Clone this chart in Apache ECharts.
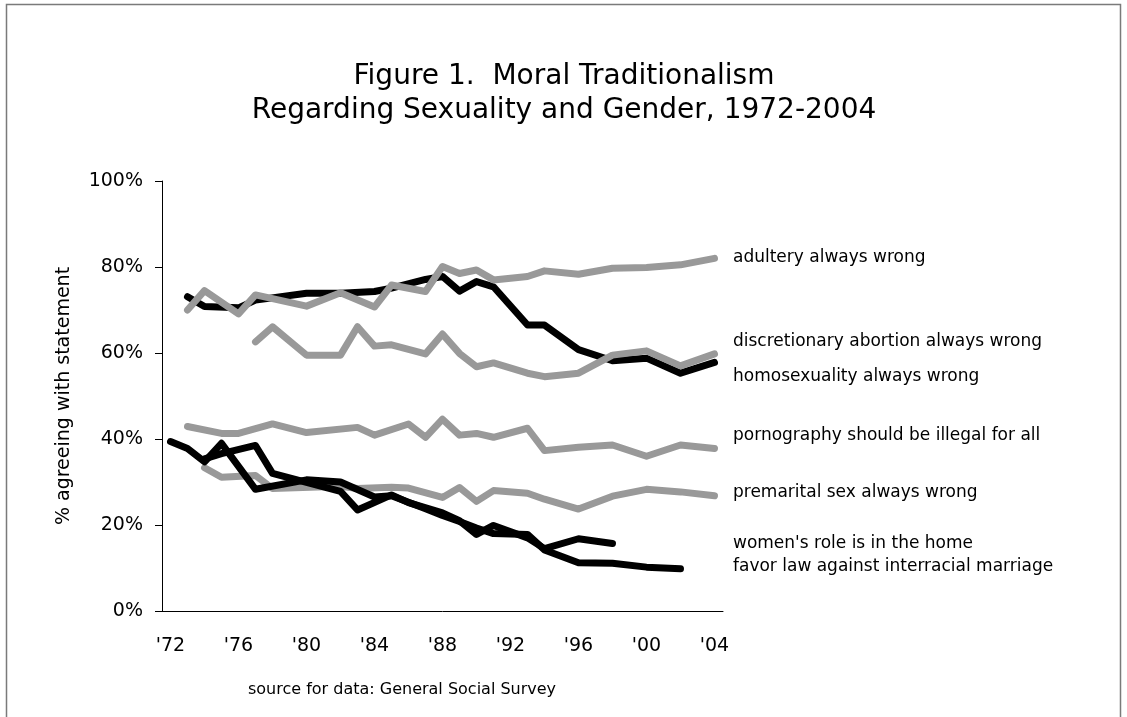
<!DOCTYPE html>
<html>
<head>
<meta charset="utf-8">
<script src="https://cdn.jsdelivr.net/npm/echarts@6/dist/echarts.min.js"></script>
<style>
html,body{margin:0;padding:0;background:#fff;}
#chart{width:1127px;height:717px;}
</style>
</head>
<body>
<div id="chart"></div>
<script>
// Survey years 1972..2004 (category axis); null = not asked that year
const years = [];
for (let y = 1972; y <= 2004; y++) years.push(String(y));

const titleLines = ['Figure 1.  Moral Traditionalism', 'Regarding Sexuality and Gender, 1972-2004'];
const yAxisTitle = '% agreeing with statement';
const sourceText = 'source for data: General Social Survey';
const yTicks = [0, 20, 40, 60, 80, 100];

//                     72    73    74    75    76    77    78    79    80    81    82    83    84    85    86    87    88    89    90    91    92    93    94    95    96    97    98    99    00    01    02    03    04
const homosexuality = [null, 73.1, 70.8, null, 70.5, 72.3, null, null, 73.9, null, 73.9, null, 74.3, 75.1, null, 77.1, 77.8, 74.4, 76.6, 75.4, null, 66.5, 66.5, null, 60.8, null, 58.2, null, 58.8, null, 55.3, null, 57.8];
const adultery      = [null, 70.0, 74.5, null, 69.1, 73.5, null, null, 70.9, null, 74.0, null, 70.7, 75.8, null, 74.3, 80.1, 78.5, 79.3, 77.0, null, 77.8, 79.1, null, 78.3, null, 79.7, null, 79.9, null, 80.5, null, 82.0];
const abortion      = [null, null, null, null, null, 62.6, 66.1, null, 59.5, null, 59.5, 66.1, 61.6, 61.9, null, 59.8, 64.4, 59.9, 56.8, 57.7, null, 55.3, 54.5, null, 55.3, null, 59.5, null, 60.5, null, 57.0, null, 59.8];
const pornography   = [null, 42.9, null, 41.3, 41.3, null, 43.5, null, 41.5, null, null, 42.7, 40.9, null, 43.5, 40.4, 44.6, 40.9, 41.3, 40.4, null, 42.5, 37.3, null, 38.1, null, 38.6, null, 36.0, null, 38.6, null, 37.8];
const premarital    = [null, null, 33.3, 31.1, null, 31.5, 28.5, null, null, null, 29.0, 28.5, null, 28.8, 28.6, null, 26.4, 28.7, 25.5, 28.0, null, 27.4, 26.0, null, 23.7, null, 26.7, null, 28.3, null, 27.7, null, 26.8];
const womensRole    = [null, null, 35.4, 36.6, null, 38.5, 32.0, null, null, null, 27.8, 23.5, null, 27.0, 25.2, null, 22.8, 21.0, 17.8, 19.9, null, 17.0, 14.5, null, 16.8, null, 15.7, null, null, null, null, null, null];
const interracial   = [39.4, 37.8, 34.7, 39.0, null, 28.3, null, null, 30.5, null, 30.0, null, 26.5, 26.8, null, 23.8, 22.2, 20.8, 19.3, 18.0, null, 17.8, 14.2, null, 11.2, null, 11.1, null, 10.2, null, 9.8, null, null];

const seriesNames = ['homosexuality always wrong', 'adultery always wrong', 'discretionary abortion always wrong',
  'pornography should be illegal for all', 'premarital sex always wrong', "women's role is in the home",
  'favor law against interracial marriage'];
const seriesData = [homosexuality, adultery, abortion, pornography, premarital, womensRole, interracial];
const seriesColors = ['#000000', '#999999', '#999999', '#999999', '#999999', '#000000', '#000000'];

// right-hand labels: text and their vertical pixel placement
const labelTexts = ['adultery always wrong', 'discretionary abortion always wrong', 'homosexuality always wrong',
  'pornography should be illegal for all', 'premarital sex always wrong', "women's role is in the home",
  'favor law against interracial marriage'];
const labelY = [258, 342, 377, 436, 493, 544, 567];

const FONT = 'DejaVu Sans';
const chart = echarts.init(document.getElementById('chart'), null, {renderer: 'canvas'});

const graphics = [
  {type: 'rect', shape: {x: 6.5, y: 4.5, width: 1114, height: 760}, style: {fill: 'none', stroke: '#7a7a7a', lineWidth: 1.5}, silent: true},
  {type: 'text', x: 564, y: 77, style: {text: titleLines[0], font: '28px ' + FONT, fill: '#000', align: 'center', verticalAlign: 'middle'}},
  {type: 'text', x: 564, y: 111, style: {text: titleLines[1], font: '28px ' + FONT, fill: '#000', align: 'center', verticalAlign: 'middle'}},
  {type: 'text', x: 402, y: 690, style: {text: sourceText, font: '16px ' + FONT, fill: '#000', align: 'center', verticalAlign: 'middle'}}
];
labelTexts.forEach((t, i) => {
  graphics.push({type: 'text', x: 733, y: labelY[i], style: {text: t, font: '17px ' + FONT, fill: '#000', align: 'left', verticalAlign: 'middle'}});
});

chart.setOption({
  animation: false,
  backgroundColor: '#fff',
  textStyle: {fontFamily: FONT},
  grid: {left: 162, right: 404, top: 181, bottom: 106, containLabel: false},
  xAxis: {
    type: 'category',
    data: years,
    boundaryGap: true,
    axisLine: {show: true, lineStyle: {color: '#000', width: 1}},
    axisTick: {show: false},
    axisLabel: {interval: 3, margin: 26, color: '#000', fontSize: 19, fontFamily: FONT,
      formatter: v => "'" + v.slice(2)},
    splitLine: {show: false}
  },
  yAxis: {
    type: 'value',
    min: yTicks[0], max: yTicks[yTicks.length - 1], interval: 20,
    name: yAxisTitle,
    nameLocation: 'middle',
    nameGap: 88,
    nameRotate: 90,
    nameTextStyle: {color: '#000', fontSize: 19, fontFamily: FONT},
    axisLine: {show: true, lineStyle: {color: '#000', width: 1}},
    axisTick: {show: true, inside: false, length: 7, lineStyle: {color: '#000'}},
    axisLabel: {margin: 19, color: '#000', fontSize: 19, fontFamily: FONT, formatter: '{value}%'},
    splitLine: {show: false}
  },
  series: seriesData.map((d, i) => ({
    name: seriesNames[i],
    type: 'line',
    data: d,
    connectNulls: true,
    showSymbol: false,
    symbol: 'none',
    z: 2,
    lineStyle: {color: seriesColors[i], width: 7, cap: 'round', join: 'round'},
    itemStyle: {color: seriesColors[i]}
  })),
  graphic: graphics
});
</script>
</body>
</html>
